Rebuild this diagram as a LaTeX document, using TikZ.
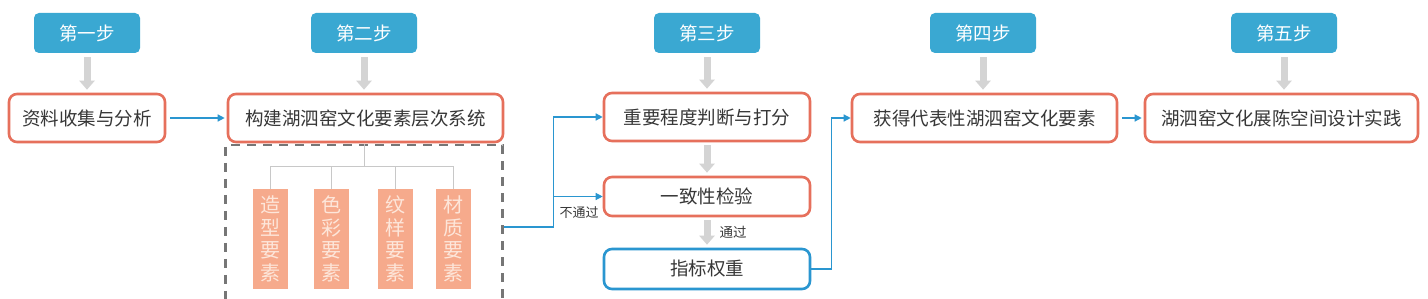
\documentclass[tikz,border=0pt]{standalone}
\usepackage{fontspec}
\setmainfont{Noto Sans CJK SC}
\usetikzlibrary{positioning,arrows.meta,calc}
\definecolor{StepBlue}{RGB}{58,168,210}
\definecolor{BoxRed}{RGB}{230,112,92}
\definecolor{LinkBlue}{RGB}{42,150,208}
\definecolor{ArrowGray}{RGB}{212,212,212}
\definecolor{FrameGray}{RGB}{118,118,118}
\definecolor{TreeGray}{RGB}{200,200,200}
\definecolor{ElemFill}{RGB}{246,170,140}
\definecolor{ElemText}{RGB}{253,230,218}
\definecolor{TextDark}{RGB}{55,55,55}

\tikzset{
  stepbox/.style={fill=StepBlue, text=white, rounded corners=5pt, minimum width=106pt, minimum height=40pt},
  taskbox/.style={draw=BoxRed, line width=2.6pt, fill=white, text=TextDark, rounded corners=8pt, minimum height=48pt},
  elembox/.style={fill=ElemFill, text=ElemText, minimum width=35pt, minimum height=100pt, text width=20pt, font=\fontsize{20}{22.5}\selectfont},
  grayarrow/.style={-{Triangle[width=15pt,length=9pt]}, line width=7pt, ArrowGray, shorten <=4pt, shorten >=3pt},
  link/.style={-{Triangle[width=7pt,length=7pt]}, line width=1.3pt, LinkBlue},
  treeline/.style={line width=1pt, TreeGray},
  groupframe/.style={draw=FrameGray, line width=2.6pt, dash pattern=on 9pt off 7pt, minimum width=277pt, minimum height=164pt}
}

\begin{document}
\begin{tikzpicture}[x=1pt, y=-1pt, every node/.style={font=\fontsize{18.5}{22}\selectfont, align=center, inner sep=0pt}]
  \clip (0,0) rectangle (1428,299);
  \fill[white] (0,0) rectangle (1428,299);

  % step headers
  \node[stepbox] (s1) at (87,33) {第一步};
  \node[stepbox] (s2) at (364,33) {第二步};
  \node[stepbox] (s3) at (707,33) {第三步};
  \node[stepbox] (s4) at (983,33) {第四步};
  \node[stepbox] (s5) at (1284,33) {第五步};

  % main row
  \node[taskbox, minimum width=156pt] (a1) at (87,118) {资料收集与分析};
  \node[taskbox, minimum width=275pt] (a2) at (365.5,118) {构建湖泗窑文化要素层次系统};
  \node[taskbox, minimum width=206pt] (b1) at (707,117) {重要程度判断与打分};
  \node[taskbox, minimum width=206pt, minimum height=39pt] (b2) at (707,196.5) {一致性检验};
  \node[taskbox, draw=LinkBlue, minimum width=206pt, minimum height=40pt] (b3) at (707,269) {指标权重};
  \node[taskbox, minimum width=265pt] (a4) at (984.5,118) {获得代表性湖泗窑文化要素};
  \node[taskbox, minimum width=273pt] (a5) at (1281.5,118) {湖泗窑文化展陈空间设计实践};

  % element group
  \node[groupframe] (frame) at (364,227) {};
  \node[elembox] (e1) at (270,239) {造\\型\\要\\素};
  \node[elembox] (e2) at (331,239) {色\\彩\\要\\素};
  \node[elembox] (e3) at (395,239) {纹\\样\\要\\素};
  \node[elembox] (e4) at (453,239) {材\\质\\要\\素};
  \draw[treeline] (frame.north) -- ++(0,23) coordinate (hub);
  \draw[treeline] (hub) -| (e1.north);
  \draw[treeline] (hub) -| (e2.north);
  \draw[treeline] (hub) -| (e3.north);
  \draw[treeline] (hub) -| (e4.north);

  % gray step arrows
  \draw[grayarrow] (s1) -- (s1 |- a1.north);
  \draw[grayarrow] (s2) -- (s2 |- a2.north);
  \draw[grayarrow] (s3) -- (s3 |- b1.north);
  \draw[grayarrow] (s4) -- (s4 |- a4.north);
  \draw[grayarrow] (s5) -- (s5 |- a5.north);
  \draw[grayarrow, shorten <=3pt] (b1) -- (b2);
  \draw[grayarrow, shorten <=3pt] (b2) -- (b3);

  % blue links
  \draw[link, shorten <=4pt, shorten >=2pt] (a1) -- (a2);
  \draw[link] (frame.east) -- ++(50,0) coordinate (turn) |- (b1.west);
  \draw[link] (turn |- b2.west) -- (b2.west);
  \draw[link] (b3.east) -- ++(20,0) |- (a4.west);
  \draw[link, shorten <=4pt, shorten >=2pt] (a4) -- (a5);

  \node[font=\fontsize{13}{15}\selectfont, text=TextDark] (nopass) at (579,213) {不通过};
  \node[font=\fontsize{13.5}{15}\selectfont, text=TextDark] (pass) at (733,232) {通过};
\end{tikzpicture}
\end{document}
